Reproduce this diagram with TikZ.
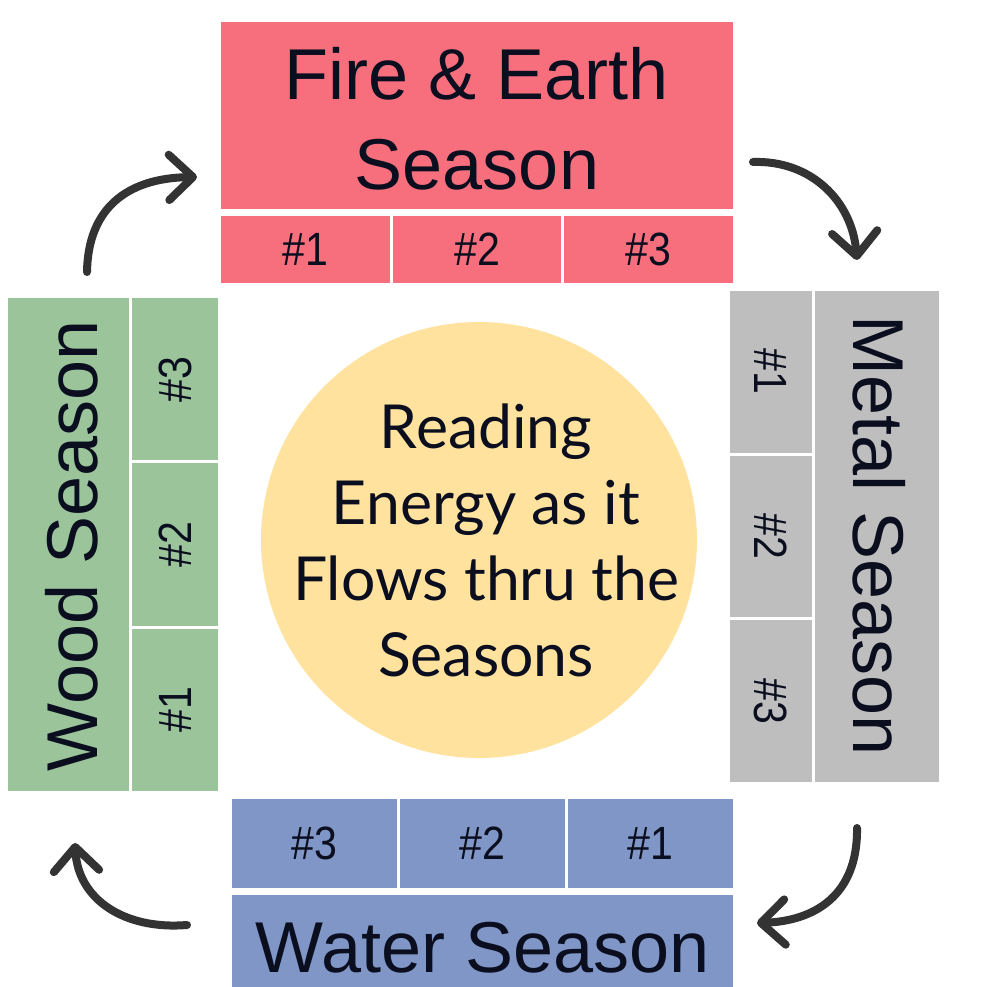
\documentclass[tikz,border=0pt]{standalone}
\usepackage{fontspec}
\setmainfont{Liberation Sans}
\newfontfamily\latofont{Lato}
\newfontfamily\narrowfont[FakeStretch=0.88]{Liberation Sans}
\usetikzlibrary{arrows.meta}
\definecolor{pinkC}{RGB}{247,110,124}
\definecolor{greenC}{RGB}{155,196,155}
\definecolor{greyC}{RGB}{190,190,190}
\definecolor{blueC}{RGB}{127,150,199}
\definecolor{yellowC}{RGB}{255,226,158}
\definecolor{arrowC}{RGB}{51,51,51}
\definecolor{textC}{RGB}{10,14,30}
\begin{document}
\begin{tikzpicture}[x=0.75pt,y=-0.75pt,
  box/.style={fill=#1, draw=none, inner sep=0pt, outer sep=0pt},
  sz/.style 2 args={minimum width=#1*0.75pt, minimum height=#2*0.75pt},
  hash/.style={font=\narrowfont\fontsize{35}{40}\selectfont, text=textC},
  big/.style={font=\fontsize{54}{67.5}\selectfont, text=textC, inner sep=0pt},
  arr/.style={draw=arrowC, line width=6pt, line cap=round,
    -{Straight Barb[length=18pt,width=34pt,round]}}]
\useasboundingbox (0,0) rectangle (980,987);
\fill[white] (0,0) rectangle (980,987);

% Fire & Earth
\node[box=pinkC, sz={512}{187}] (fire) at (477,115.5) {};
\node[big, anchor=base] (fireT1) at (477,100) {Fire \& Earth};
\node[big, anchor=base] (fireT2) at (477,190) {Season};
\node[box=pinkC, sz={168.67}{67}, hash] (f1) at (305.3,249.5) {\#1};
\node[box=pinkC, sz={168.67}{67}, hash] (f2) at (477,249.5) {\#2};
\node[box=pinkC, sz={168.67}{67}, hash] (f3) at (648.7,249.5) {\#3};

% Wood
\node[box=greenC, sz={121}{493}] (wood) at (68.5,544.5) {};
\node[big, rotate=90, anchor=base] (woodT) at (97,546) {Wood Season};
\node[box=greenC, sz={162.3}{86}, rotate=90, hash] (w3) at (175,379.2) {\#3};
\node[box=greenC, sz={162.3}{86}, rotate=90, hash] (w2) at (175,544.5) {\#2};
\node[box=greenC, sz={162.3}{86}, rotate=90, hash] (w1) at (175,709.8) {\#1};

% Metal
\node[box=greyC, sz={124}{491}] (metal) at (877,536.5) {};
\node[big, rotate=-90, anchor=base] (metalT) at (853,536) {Metal Season};
\node[box=greyC, sz={161.7}{82}, rotate=-90, hash] (m1) at (771,371.8) {\#1};
\node[box=greyC, sz={161.7}{82}, rotate=-90, hash] (m2) at (771,536.5) {\#2};
\node[box=greyC, sz={161.7}{82}, rotate=-90, hash] (m3) at (771,701.2) {\#3};

% Water
\node[box=blueC, sz={165}{89}, hash] (a3) at (314.5,843.5) {\#3};
\node[box=blueC, sz={165}{89}, hash] (a2) at (482.5,843.5) {\#2};
\node[box=blueC, sz={165}{89}, hash] (a1) at (650.5,843.5) {\#1};
\node[box=blueC, sz={501}{92}] (water) at (482.5,941) {};
\node[big, anchor=base] (waterT) at (482.5,972) {Water Season};

% Centre
\node[circle, fill=yellowC, draw=none, minimum size=436*0.75pt, inner sep=0pt] (hub) at (479,540) {};
\node[font=\latofont\fontsize{45.5}{57}\selectfont, align=center, text=textC] (hubT) at (486,540)
  {Reading\\Energy as it\\Flows thru the\\Seasons};

% Arrows
\coordinate (tlS) at (87,272);   \coordinate (tlE) at (197,177);
\coordinate (trS) at (753,162);  \coordinate (trE) at (857,260);
\coordinate (brS) at (857,828);  \coordinate (brE) at (757,923);
\coordinate (blS) at (187,925);  \coordinate (blE) at (75,843);
\draw[arr] (tlS) .. controls (88,210) and (125,178) .. (tlE);
\draw[arr] (trS) .. controls (810,160) and (852,200) .. (trE);
\draw[arr] (brS) .. controls (858,895) and (815,921) .. (brE);
\draw[arr] (blS) .. controls (125,930) and (78,900) .. (blE);
\end{tikzpicture}
\end{document}
